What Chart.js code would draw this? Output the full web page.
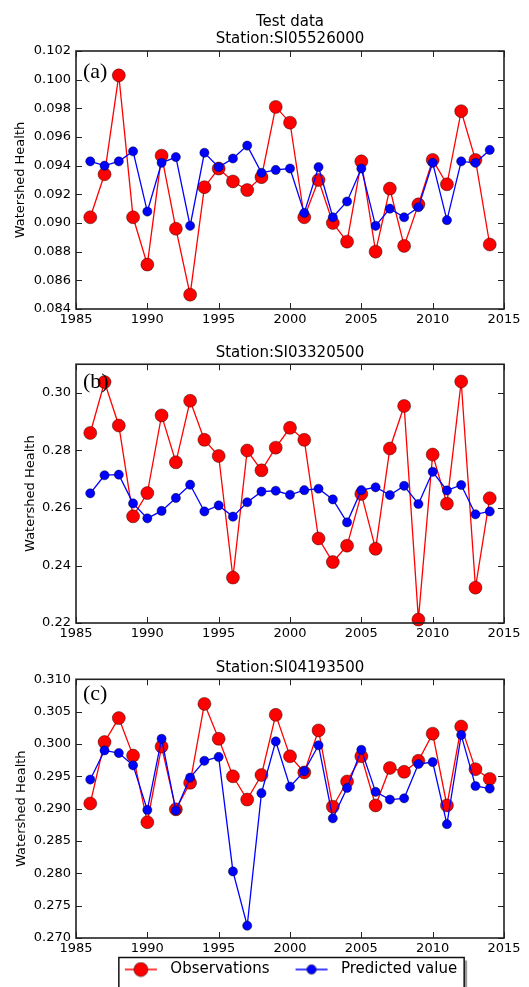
<!DOCTYPE html>
<html>
<head>
<meta charset="utf-8">
<title>Watershed Health - Test data</title>
<script src="https://cdn.jsdelivr.net/npm/chart.js@4.4.1/dist/chart.umd.min.js"></script>
<style>
  html, body { margin: 0; padding: 0; background: #fff; overflow: hidden; }
  canvas { position: absolute; left: 0; }
</style>
</head>
<body>
<canvas id="panelA" width="529" height="330" style="top:0px"></canvas>
<canvas id="panelB" width="529" height="314" style="top:330px"></canvas>
<canvas id="panelC" width="529" height="355" style="top:644px"></canvas>
<script>
// data
const years = [1986, 1987, 1988, 1989, 1990, 1991, 1992, 1993, 1994, 1995, 1996, 1997, 1998, 1999, 2000,
               2001, 2002, 2003, 2004, 2005, 2006, 2007, 2008, 2009, 2010, 2011, 2012, 2013, 2014];

const obsA  = [0.0904, 0.0934, 0.1003, 0.0904, 0.0871, 0.0947, 0.0896, 0.0850, 0.0925, 0.0938, 0.0929, 0.0923, 0.0932, 0.0981, 0.0970,
               0.0904, 0.0930, 0.0900, 0.0887, 0.0943, 0.0880, 0.0924, 0.0884, 0.0913, 0.0944, 0.0927, 0.0978, 0.0944, 0.0885];
const predA = [0.0943, 0.0940, 0.0943, 0.0950, 0.0908, 0.0942, 0.0946, 0.0898, 0.0949, 0.0939, 0.0945, 0.0954, 0.0935, 0.0937, 0.0938,
               0.0907, 0.0939, 0.0904, 0.0915, 0.0938, 0.0898, 0.0910, 0.0904, 0.0911, 0.0942, 0.0902, 0.0943, 0.0942, 0.0951];

const obsB  = [0.2861, 0.3038, 0.2887, 0.2571, 0.2652, 0.2922, 0.2759, 0.2973, 0.2837, 0.2781, 0.2358, 0.2800, 0.2731, 0.2810, 0.2879,
               0.2837, 0.2494, 0.2412, 0.2469, 0.2649, 0.2458, 0.2807, 0.2955, 0.2212, 0.2786, 0.2615, 0.3040, 0.2323, 0.2634];
const predB = [0.2651, 0.2714, 0.2716, 0.2616, 0.2564, 0.2590, 0.2635, 0.2681, 0.2588, 0.2609, 0.2570, 0.2620, 0.2657, 0.2660, 0.2646,
               0.2662, 0.2667, 0.2630, 0.2550, 0.2662, 0.2672, 0.2645, 0.2677, 0.2614, 0.2726, 0.2661, 0.2680, 0.2578, 0.2588];

const obsC  = [0.2908, 0.3003, 0.3040, 0.2982, 0.2879, 0.2996, 0.2899, 0.2940, 0.3062, 0.3008, 0.2950, 0.2914, 0.2952, 0.3045, 0.2981,
               0.2956, 0.3021, 0.2903, 0.2942, 0.2981, 0.2905, 0.2963, 0.2957, 0.2974, 0.3016, 0.2905, 0.3027, 0.2961, 0.2946];
const predC = [0.2945, 0.2990, 0.2986, 0.2967, 0.2898, 0.3008, 0.2897, 0.2948, 0.2974, 0.2980, 0.2803, 0.2719, 0.2924, 0.3004, 0.2934,
               0.2958, 0.2998, 0.2885, 0.2932, 0.2991, 0.2926, 0.2914, 0.2916, 0.2969, 0.2972, 0.2876, 0.3014, 0.2935, 0.2931];

const xMin = 1985, xMax = 2015, xStep = 5;
const seriesNames = ['Observations', 'Predicted value'];

Chart.defaults.font.family = '"DejaVu Sans", sans-serif';
Chart.defaults.color = '#000';

// little line+marker icon for the legend, like matplotlib draws it
function legendIcon(color, r) {
  const c = document.createElement('canvas');
  c.width = 40; c.height = 16;
  const g = c.getContext('2d');
  g.strokeStyle = color; g.lineWidth = 1.5;
  g.beginPath(); g.moveTo(2, 8); g.lineTo(34, 8); g.stroke();
  g.beginPath(); g.arc(18, 8, r, 0, 2 * Math.PI);
  g.fillStyle = color; g.fill();
  g.lineWidth = 0.7; g.strokeStyle = 'rgba(0,0,0,0.7)'; g.stroke();
  return c;
}

// axes frame, inward ticks on all sides, panel letter and the legend frame
const framePlugin = {
  id: 'frame',
  afterLayout(chart, args, opts) {
    // pull the legend row up against the x labels (matplotlib puts it just under them)
    if (opts.legendBox && chart.legend) {
      const lg = chart.legend;
      lg.top = chart.chartArea.bottom;
      lg.bottom = lg.top + lg.height;
    }
  },
  beforeDraw(chart, args, opts) {
    if (!opts.legendBox || !chart.legend || !chart.legend.legendHitBoxes) return;
    const boxes = chart.legend.legendHitBoxes;
    if (!boxes.length) return;
    const ctx = chart.ctx;
    const l = Math.min(...boxes.map(b => b.left)) - 4;
    const r = Math.max(...boxes.map(b => b.left + b.width)) + 7;
    const cy = boxes[0].top + boxes[0].height / 2;
    ctx.save();
    ctx.fillStyle = '#9a9a9a';
    ctx.fillRect(l + 3, cy - 9, r - l, 40);
    ctx.fillStyle = '#fff';
    ctx.fillRect(l, cy - 12, r - l, 40);
    ctx.strokeStyle = '#111'; ctx.lineWidth = 1.5;
    ctx.strokeRect(l, cy - 12, r - l, 40);
    ctx.restore();
  },
  afterDatasetsDraw(chart, args, opts) {
    const {ctx, chartArea: a, scales} = chart;
    const len = 6;
    ctx.save();
    ctx.strokeStyle = '#222'; ctx.lineWidth = 1;
    ctx.beginPath();
    scales.x.ticks.forEach(t => {
      const px = Math.round(scales.x.getPixelForValue(t.value)) + 0.5;
      ctx.moveTo(px, a.bottom); ctx.lineTo(px, a.bottom - len);
      ctx.moveTo(px, a.top); ctx.lineTo(px, a.top + len);
    });
    scales.y.ticks.forEach(t => {
      const py = Math.round(scales.y.getPixelForValue(t.value)) + 0.5;
      ctx.moveTo(a.left, py); ctx.lineTo(a.left + len, py);
      ctx.moveTo(a.right, py); ctx.lineTo(a.right - len, py);
    });
    ctx.stroke();
    ctx.lineWidth = 1.6; ctx.strokeStyle = '#222';
    ctx.strokeRect(a.left, a.top, a.width, a.height);
    ctx.fillStyle = '#000';
    ctx.font = '22px "Liberation Serif", serif';
    ctx.textBaseline = 'middle';
    ctx.fillText(opts.letter, a.left + 7, a.top + opts.letterDy);
    ctx.restore();
  }
};

function makePanel(id, p) {
  const ctx = document.getElementById(id).getContext('2d');
  return new Chart(ctx, {
    type: 'line',
    data: {
      datasets: [
        {
          label: seriesNames[0],
          data: years.map((y, i) => ({x: y, y: p.obs[i]})),
          borderColor: '#ff0000',
          backgroundColor: '#ff0000',
          borderWidth: 1.3,
          pointRadius: 6.5,
          pointBackgroundColor: '#ff0000',
          pointBorderColor: 'rgba(0,0,0,0.6)',
          pointBorderWidth: 0.7,
          tension: 0,
          clip: false,
          order: 1
        },
        {
          label: seriesNames[1],
          data: years.map((y, i) => ({x: y, y: p.pred[i]})),
          borderColor: '#0000ff',
          backgroundColor: '#0000ff',
          borderWidth: 1.3,
          pointRadius: 4.6,
          pointBackgroundColor: '#0000ff',
          pointBorderColor: 'rgba(0,0,0,0.6)',
          pointBorderWidth: 0.7,
          tension: 0,
          clip: false,
          order: 0
        }
      ]
    },
    options: {
      responsive: false,
      animation: false,
      layout: { padding: { left: 0, right: 25, top: 0, bottom: 0 } },
      plugins: {
        title: {
          display: true,
          text: p.title,
          fullSize: false,
          color: '#000',
          font: { size: 15, weight: 'normal', lineHeight: 1.15 },
          padding: p.titlePad
        },
        legend: p.legend ? {
          display: true,
          position: 'bottom',
          fullSize: false,
          maxHeight: 40,
          labels: {
            usePointStyle: true,
            pointStyleWidth: 40,
            padding: 24,
            color: '#000',
            font: { size: 15 },
            generateLabels: chart => chart.data.datasets.map((ds, i) => ({
              text: ds.label,
              pointStyle: legendIcon(ds.borderColor, i === 0 ? 7 : 4.7),
              datasetIndex: i,
              hidden: false,
              lineWidth: 0,
              fillStyle: ds.backgroundColor,
              strokeStyle: ds.borderColor,
              fontColor: '#000'
            }))
          }
        } : { display: false },
        tooltip: { enabled: false },
        frame: { letter: p.letter, letterDy: p.letterDy, legendBox: !!p.legend }
      },
      scales: {
        x: {
          type: 'linear',
          min: xMin,
          max: xMax,
          grid: { display: false, drawTicks: false },
          border: { display: false },
          afterFit: s => { s.height = 21; },
          ticks: {
            stepSize: xStep,
            padding: 3,
            maxRotation: 0,
            autoSkip: false,
            color: '#000',
            font: { size: 13 },
            callback: v => String(v)
          }
        },
        y: {
          min: p.yMin,
          max: p.yMax,
          grid: { display: false, drawTicks: false },
          border: { display: false },
          afterFit: s => { s.width = 76; },
          title: {
            display: true,
            text: 'Watershed Health',
            color: '#000',
            font: { size: 13 },
            padding: { top: p.yTitlePad, bottom: 0 }
          },
          ticks: {
            stepSize: p.yStep,
            includeBounds: false,
            padding: 5,
            color: '#000',
            font: { size: 13 },
            callback: v => v.toFixed(p.yDigits)
          }
        }
      }
    },
    plugins: [framePlugin]
  });
}

makePanel('panelA', {
  obs: obsA, pred: predA,
  title: ['Test data', 'Station:SI05526000'],
  titlePad: { top: 13.4, bottom: 3.1 },
  yMin: 0.084, yMax: 0.102, yStep: 0.002, yDigits: 3,
  yTitlePad: 12.9,
  letter: '(a)', letterDy: 21
});

makePanel('panelB', {
  obs: obsB, pred: predB,
  title: 'Station:SI03320500',
  titlePad: { top: 14.1, bottom: 2.9 },
  yMin: 0.22, yMax: 0.31, yStep: 0.02, yDigits: 2,
  yTitlePad: 22.9,
  letter: '(b)', letterDy: 18
});

makePanel('panelC', {
  obs: obsC, pred: predC,
  title: 'Station:SI04193500',
  titlePad: { top: 15.7, bottom: 2.35 },
  yMin: 0.270, yMax: 0.310, yStep: 0.005, yDigits: 3,
  yTitlePad: 14.2,
  letter: '(c)', letterDy: 15,
  legend: true
});
</script>
</body>
</html>
